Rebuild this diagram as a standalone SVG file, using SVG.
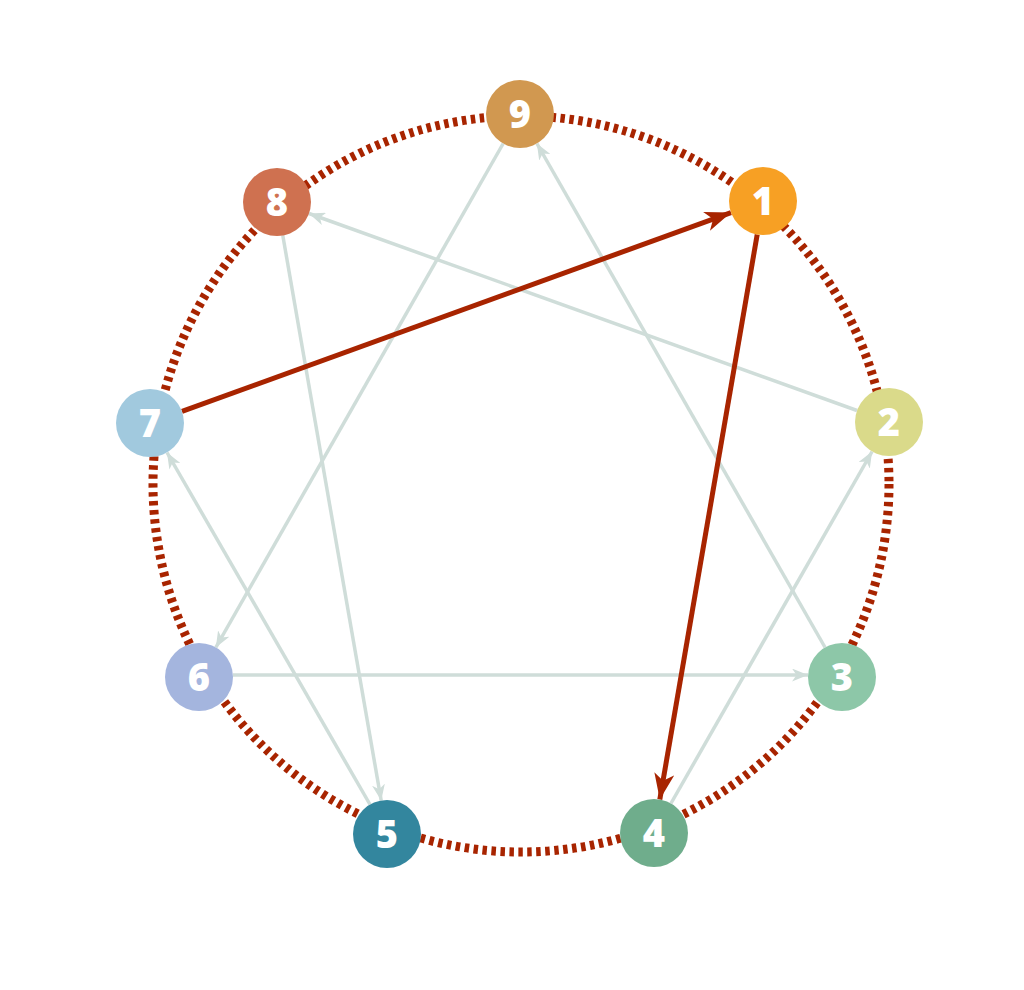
<svg xmlns="http://www.w3.org/2000/svg" width="1024" height="990" viewBox="0 0 1024 990">
<style>
.ring{fill:none;stroke:#A82400;stroke-width:9;stroke-dasharray:4.5 4.5}
.g{fill:none;stroke:#CFDDD9;stroke-width:3.5}
.r{fill:none;stroke:#A82400;stroke-width:5}
.lbl{font-family:"Open Sans","Inter","Liberation Sans",sans-serif;font-weight:800;font-size:38px;fill:#FFFFFF;text-anchor:middle}
</style>
<defs>
<marker id="ag" viewBox="0 0 16 13" refX="16" refY="6.5" markerWidth="16" markerHeight="13" markerUnits="userSpaceOnUse" orient="auto">
<path d="M16,6.5 L0,0 L4.5,6.5 L0,13 Z" fill="#CFDDD9"/>
</marker>
<marker id="ar" viewBox="0 0 26 20" refX="26" refY="10" markerWidth="26" markerHeight="20" markerUnits="userSpaceOnUse" orient="auto">
<path d="M26,10 L0,0 L7,10 L0,20 Z" fill="#A82400"/>
</marker>
</defs>
<rect width="1024" height="990" fill="#FFFFFF"/>
<circle class="ring" cx="521" cy="484" r="368"/>
<g id="connectors">
<line class="g" x1="503.2" y1="143.5" x2="215.8" y2="647.5" marker-end="url(#ag)"/>
<line class="g" x1="825.1" y1="647.5" x2="536.9" y2="143.5" marker-end="url(#ag)"/>
<line class="g" x1="857.0" y1="410.5" x2="309.0" y2="213.5" marker-end="url(#ag)"/>
<line class="g" x1="282.8" y1="235.5" x2="381.2" y2="800.5" marker-end="url(#ag)"/>
<line class="g" x1="370.0" y1="804.5" x2="167.0" y2="452.5" marker-end="url(#ag)"/>
<line class="g" x1="233" y1="675" x2="808" y2="675" marker-end="url(#ag)"/>
<line class="g" x1="670.9" y1="803.5" x2="872.1" y2="451.5" marker-end="url(#ag)"/>
<line class="r" x1="182.0" y1="411.4" x2="731.0" y2="212.6" marker-end="url(#ar)"/>
<line class="r" x1="757.2" y1="234.5" x2="659.8" y2="799.5" marker-end="url(#ar)"/>
</g>
<g id="n9"><circle cx="520" cy="114" r="34" fill="#D19850"/><text class="lbl" x="520" y="127.5">9</text></g>
<g id="n1"><circle cx="763" cy="201" r="34" fill="#F7A024"/><text class="lbl" x="763" y="214.5">1</text></g>
<g id="n2"><circle cx="889" cy="422" r="34" fill="#DADA8A"/><text class="lbl" x="889" y="435.5">2</text></g>
<g id="n3"><circle cx="842" cy="677" r="34" fill="#8DC7A8"/><text class="lbl" x="842" y="690.5">3</text></g>
<g id="n4"><circle cx="654" cy="833" r="34" fill="#6FAD8C"/><text class="lbl" x="654" y="846.5">4</text></g>
<g id="n5"><circle cx="387" cy="834" r="34" fill="#33869E"/><text class="lbl" x="387" y="847.5">5</text></g>
<g id="n6"><circle cx="199" cy="677" r="34" fill="#A4B5DE"/><text class="lbl" x="199" y="690.5">6</text></g>
<g id="n7"><circle cx="150" cy="423" r="34" fill="#A1C9DE"/><text class="lbl" x="150" y="436.5">7</text></g>
<g id="n8"><circle cx="277" cy="202" r="34" fill="#CF7150"/><text class="lbl" x="277" y="215.5">8</text></g>
</svg>
